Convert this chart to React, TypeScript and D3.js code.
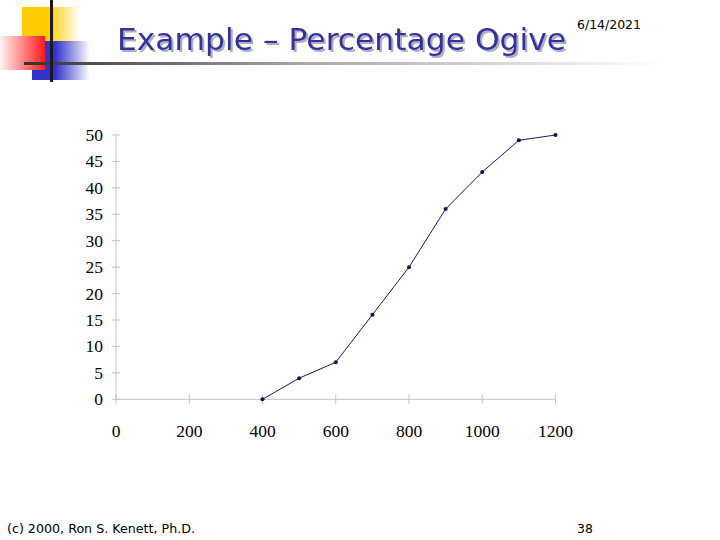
import React from "react";
import * as d3 from "d3";

const xValues = [400, 500, 600, 700, 800, 900, 1000, 1100, 1200];
const cumulativePercent = [0, 4, 7, 16, 25, 36, 43, 49, 50];
const xTicks = [0, 200, 400, 600, 800, 1000, 1200];
const yTicks = [0, 5, 10, 15, 20, 25, 30, 35, 40, 45, 50];
const titleText = "Example \u2013 Percentage Ogive";
const dateText = "6/14/2021";
const footerText = "(c) 2000, Ron S. Kenett, Ph.D.";
const pageNumber = "38";

export default function App() {
  const W = 720, H = 540;
  const x = d3.scaleLinear().domain([0, 1200]).range([116, 555.5]);
  const y = d3.scaleLinear().domain([0, 50]).range([399.3, 135]);
  const pts = xValues.map((v, i) => [x(v), y(cumulativePercent[i])] as [number, number]);
  const line = d3.line()(pts) || "";
  const axisColor = "#c4c4c4";
  const serif = "'Liberation Serif', 'Times New Roman', serif";
  const sans = "'DejaVu Sans', Verdana, sans-serif";

  return (
    <svg width={W} height={H} style={{ position: "absolute", left: 0, top: 0, background: "#fff" }}>
      <defs>
        <linearGradient id="yel" x1="0" x2="1" y1="0" y2="0">
          <stop offset="0" stopColor="#ffcc00" />
          <stop offset="0.45" stopColor="#ffcc00" />
          <stop offset="1" stopColor="#ffcc00" stopOpacity="0" />
        </linearGradient>
        <linearGradient id="red" x1="0" x2="1" y1="0" y2="0">
          <stop offset="0" stopColor="#fff4f4" />
          <stop offset="1" stopColor="#ff1a1a" />
        </linearGradient>
        <linearGradient id="blu" x1="0" x2="1" y1="0" y2="0">
          <stop offset="0" stopColor="#3333cc" />
          <stop offset="0.4" stopColor="#3333cc" />
          <stop offset="1" stopColor="#3333cc" stopOpacity="0" />
        </linearGradient>
        <linearGradient id="bar" x1="0" x2="1" y1="0" y2="0">
          <stop offset="0" stopColor="#333333" />
          <stop offset="0.45" stopColor="#aaaaaa" />
          <stop offset="1" stopColor="#ffffff" />
        </linearGradient>
        <filter id="shadow" x="-5%" y="-20%" width="110%" height="150%">
          <feDropShadow dx="2" dy="2" stdDeviation="0.6" floodColor="#9999b8" floodOpacity="0.8" />
        </filter>
      </defs>

      {/* decoration */}
      <rect x={22} y={7} width={58} height={35} fill="url(#yel)" />
      <rect x={32} y={41} width={58} height={39} fill="url(#blu)" />
      <rect x={0} y={36} width={45} height={34} fill="url(#red)" />
      <rect x={24} y={62} width={640} height={3} fill="url(#bar)" />
      <rect x={50} y={0} width={3} height={82} fill="#1a1a1a" />

      {/* title */}
      <text x={117} y={50} fontFamily={sans} fontSize={31} fill="#333399" filter="url(#shadow)" textLength={449} lengthAdjust="spacingAndGlyphs">{titleText}</text>
      <text x={577} y={29} fontFamily={sans} fontSize={12} fill="#000" textLength={64} lengthAdjust="spacingAndGlyphs">{dateText}</text>

      {/* axes */}
      <line x1={x(0)} x2={x(1200)} y1={y(0)} y2={y(0)} stroke={axisColor} />
      <line x1={x(0)} x2={x(0)} y1={y(0)} y2={y(50)} stroke={axisColor} />
      {yTicks.map(t => (
        <g key={"y" + t}>
          <line x1={x(0) - 4} x2={x(0) + 4} y1={y(t)} y2={y(t)} stroke={axisColor} />
          <text x={103} y={y(t) + 6} textAnchor="end" fontFamily={serif} fontSize={17.5} fill="#000">{t}</text>
        </g>
      ))}
      {xTicks.map(t => (
        <g key={"x" + t}>
          <line x1={x(t)} x2={x(t)} y1={y(0) - 5} y2={y(0) + 5} stroke={axisColor} />
          <text x={x(t)} y={437} textAnchor="middle" fontFamily={serif} fontSize={17.5} fill="#000">{t}</text>
        </g>
      ))}

      {/* data */}
      <path d={line} fill="none" stroke="#1a1a5a" strokeWidth={1} />
      {pts.map((p, i) => (
        <circle key={i} cx={p[0]} cy={p[1]} r={2} fill="#10104a" />
      ))}

      {/* footer */}
      <text x={7} y={533} fontFamily={sans} fontSize={12.5} fill="#000" textLength={188} lengthAdjust="spacingAndGlyphs">{footerText}</text>
      <text x={577} y={533} fontFamily={sans} fontSize={12.5} fill="#000">{pageNumber}</text>
    </svg>
  );
}
